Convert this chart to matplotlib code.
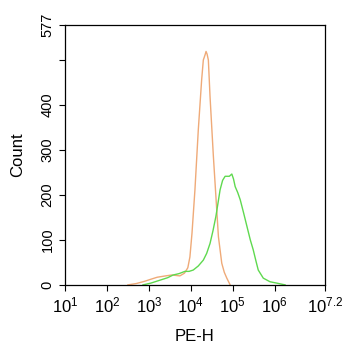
import matplotlib
matplotlib.use("Agg")
import matplotlib.pyplot as plt
import numpy as np

plt.rcParams["font.family"] = ["Liberation Sans", "DejaVu Sans"]
plt.rcParams["mathtext.default"] = "regular"

# log10(PE-H) positions and counts
orange_log = [2.50, 2.70, 2.90, 3.03, 3.20, 3.40, 3.55, 3.74, 3.85, 3.93, 3.98, 4.03, 4.10,
              4.18, 4.26, 4.30, 4.34, 4.365, 4.39, 4.42, 4.46, 4.54, 4.60, 4.66,
              4.74, 4.80, 4.86, 4.94]
orange_cnt = [0, 3, 8, 12, 17, 20, 22, 20, 26, 38, 62, 115, 211,
              344, 455, 499, 510, 518, 512, 499, 418, 285, 196, 107,
              48, 28, 15, 0]

green_log = [2.86, 3.05, 3.25, 3.45, 3.58, 3.72, 3.86, 3.96, 4.06, 4.18, 4.30, 4.38,
             4.46, 4.53, 4.60, 4.70, 4.76, 4.82, 4.92, 4.98, 5.02, 5.06, 5.12,
             5.18, 5.26, 5.34, 5.42, 5.49, 5.55, 5.61, 5.73, 5.89, 6.05, 6.15, 6.25]
green_cnt = [0, 4, 10, 16, 22, 25, 30, 30, 33, 42, 55, 70,
             92, 120, 152, 211, 232, 241, 241, 246, 235, 218, 205,
             189, 160, 130, 100, 78, 55, 33, 15, 7, 4, 2, 0]

xt_log = [1, 2, 3, 4, 5, 6, 7.2]
xt_lab = ["$10^1$", "$10^2$", "$10^3$", "$10^4$", "$10^5$", "$10^6$", "$10^{7.2}$"]
yt = [0, 100, 200, 300, 400, 500, 577]
yt_lab = ["0", "100", "200", "300", "400", "", "577"]

fig = plt.figure(figsize=(3.42, 3.5), dpi=100)
ax = fig.add_axes([0.190, 0.186, 0.760, 0.743])

ax.plot(10 ** np.array(orange_log), orange_cnt, color="#EFAA78", lw=1.0)
ax.plot(10 ** np.array(green_log), green_cnt, color="#5FD94F", lw=1.0)

ax.set_xscale("log")
ax.set_xlim(10 ** 1, 10 ** 7.2)
ax.set_ylim(0, 577)

ax.set_xticks(10 ** np.array(xt_log))
ax.set_xticklabels(xt_lab, fontsize=12)
ax.xaxis.set_minor_locator(matplotlib.ticker.LogLocator(base=10, subs=np.arange(2, 10)))
ax.xaxis.set_minor_formatter(matplotlib.ticker.NullFormatter())

ax.set_yticks(yt)
ax.set_yticklabels(yt_lab, rotation=90, va="center", fontsize=10.5)

ax.tick_params(axis="both", which="major", length=4, width=0.8, direction="out")
ax.tick_params(axis="x", which="minor", length=2, width=0.6, direction="out")
ax.set_xlabel("PE-H", fontsize=12, va="center")
ax.set_ylabel("Count", fontsize=12, va="center")
ax.xaxis.set_label_coords(0.5, -0.20)
ax.yaxis.set_label_coords(-0.181, 0.5)
for s in ax.spines.values():
    s.set_linewidth(0.9)

fig.savefig("out.png", dpi=100)
